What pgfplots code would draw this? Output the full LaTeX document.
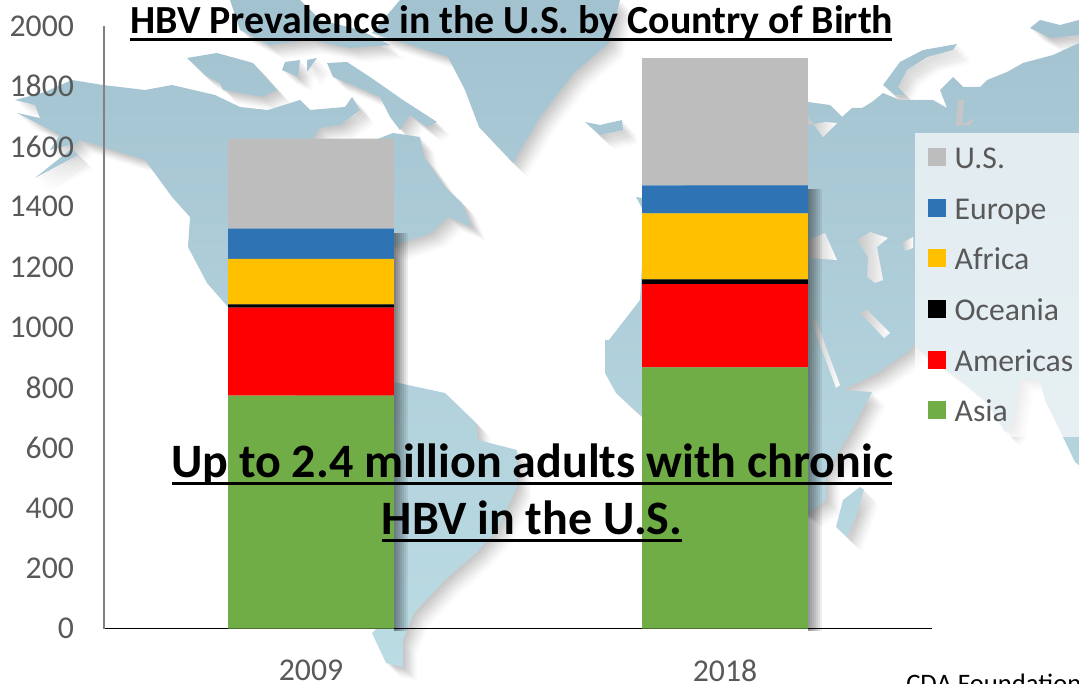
\documentclass[border=0pt]{standalone}
\usepackage{fontspec}
\setmainfont{Carlito}
\usepackage{pgfplots}
\pgfplotsset{compat=1.18}
\definecolor{txt}{HTML}{595959}
\definecolor{cgray}{HTML}{BDBDBD}
\definecolor{cblue}{HTML}{2E74B5}
\definecolor{cyel}{HTML}{FFC000}
\definecolor{cred}{HTML}{FF0000}
\definecolor{cgreen}{HTML}{70AD47}
\definecolor{landtop}{HTML}{A3C2D0}
\definecolor{landbot}{HTML}{BCDCE4}
\pgfplotsset{sw/.style={legend image code/.code={\fill[#1] (0pt,-4.5pt) rectangle (13.5pt,9pt);}}}
\def\landpath{
 % North + South America
 (72,80)--(103,85)--(145,90)--(172,85)--(215,95)--(240,107)--(268,110)--(300,100)--(310,110)--(345,107)--(352,97)--(360,110)--(340,125)--(320,128)--(312,140)--(375,140)--(393,133)--(420,137)--(424,157)--(445,187)--(462,203)--(472,227)--(448,217)--(431,233)--(390,247)--(390,382)--(394,382)--(445,393)--(476,423)--(478,440)--(517,450)--(517,487)--(497,530)--(476,553)--(445,580)--(414,613)--(403,640)--(403,667)--(386,663)--(372,633)--(385,620)--(350,500)--(300,400)--(228,307)--(207,283)--(188,247)--(190,217)--(172,197)--(145,160)--(103,147)--(80,140)--(70,150)--(35,178)--(78,155)--(70,145)--(50,150)--(60,135)--(17,113)--(40,118)--(35,105)--(15,100)--(45,92)--cycle
 % Canadian islands
 (187,58)--(217,53)--(253,63)--(277,90)--(263,97)--(223,90)--(220,83)--(205,75)--cycle
 (285,62)--(300,60)--(298,77)--(282,70)--cycle
 (307,60)--(317,58)--(307,72)--cycle
 (327,63)--(347,62)--(370,77)--(403,100)--(437,122)--(427,127)--(410,115)--(400,130)--(390,117)--(380,97)--(357,87)--(333,77)--cycle
 (185,112)--(205,107)--(210,115)--(195,122)--cycle
 (210,140)--(240,133)--(225,148)--cycle
 (230,0)--(300,0)--(320,20)--(360,30)--(390,45)--(350,48)--(310,40)--(270,45)--(240,30)--cycle
 % Greenland
 (372,33)--(400,0)--(620,0)--(609,43)--(574,73)--(540,117)--(513,163)--(479,127)--(465,90)--(448,57)--cycle
 % Iceland
 (585,122)--(600,125)--(622,120)--(623,130)--(600,135)--cycle
 % Eurasia + Africa
 (808,102)--(830,105)--(842,117)--(852,108)--(862,108)--(872,102)--(883,93)--(900,100)--(917,100)--(933,100)--(947,108)--(940,90)--(953,77)--(963,87)--(980,87)--(987,80)--(1007,72)--(1023,63)--(1053,55)--(1079,43)--(1085,43)--(1085,470)--(1075,462)--(1063,437)--(1045,400)--(1040,380)--(1020,378)--(1012,425)--(1005,432)--(985,400)--(957,377)--(913,345)--(910,350)--(877,373)--(843,390)--(872,392)--(850,433)--(826,473)--(826,500)--(808,513)--(643,417)--(616,393)--(605,373)--(605,340)--(609,340)--(640,300)--(645,210)--(800,110)--cycle
 % Novaya Zemlya
 (883,85)--(900,62)--(923,50)--(957,44)--(953,50)--(927,57)--(907,70)--(898,87)--(905,95)--(895,95)--cycle
 % Arctic Russia, top right
 (1030,28)--(1040,20)--(1060,25)--(1079,20)--(1079,35)--(1050,38)--cycle
 % Madagascar
 (860,487)--(843,500)--(836,527)--(847,537)--(857,513)--(864,490)--cycle
 % UK fragment
 (636,197)--(642,198)--(642,208)--cycle
}
\begin{document}
\begin{tikzpicture}
\useasboundingbox (0,0) rectangle (809.25pt,512.25pt);
\begin{scope}
\clip (0,0) rectangle (809.25pt,512.25pt);
\begin{scope}[x=.75pt,y=-.75pt,yshift=512.25pt]
 % map shadows
 \foreach \d/\o in {14/.035,12/.045,10/.055,8/.065,6/.07,4/.08,2/.08}{
   \fill[black!60,opacity=\o,shift={(\d,\d)}] \landpath;
 }
 \shade[top color=landtop,bottom color=landbot] \landpath;
 % seas
 \shade[left color=gray!45,right color=white] (808,240)--(825,233)--(837,260)--(808,258)--cycle;
 \shade[left color=gray!45,right color=white] (857,240)--(870,232)--(888,238)--(877,247)--(883,280)--(875,283)--(867,277)--(868,257)--cycle;
 \shade[left color=gray!45,right color=white] (902,243)--(913,237)--(913,248)--(905,251)--cycle;
 \shade[left color=gray!45,right color=white] (808,117)--(823,137)--(837,123)--(826,122)--(808,125)--cycle;
 \shade[left color=gray!45,right color=white] (860,313)--(867,310)--(890,333)--(884,338)--cycle;
 \shade[left color=gray!45,right color=white] (811,320)--(816,320)--(840,385)--(836,388)--cycle;
 \fill[gray!45] (958,100)--(964,100)--(962,125)--(975,118)--(970,125)--(956,126)--cycle;
 % bar shadows
 \foreach \w in {2,4,6,8,10,12,14}{
   \fill[black,opacity=.07] (394,233) rectangle (394+\w,631);
   \fill[black,opacity=.07] (808,189) rectangle (808+\w,631);
 }
 % legend panel
 \fill[white,opacity=.68] (915,133) rectangle (1079,437);
\end{scope}
\end{scope}
\begin{axis}[
  at={(78pt,40.875pt)}, anchor=south west,
  scale only axis, width=621pt, height=451.875pt,
  ybar stacked, bar width=0.4,
  xmin=-0.5, xmax=1.5, ymin=0, ymax=2000,
  xtick={0,1}, xticklabels={2009,2018},
  ytick={0,200,...,2000},
  axis lines*=left,
  x axis line style={-,black,line width=1pt},
  y axis line style={-,black!50,line width=1.2pt},
  major tick length=0pt,
  /pgf/number format/assume math mode=true,
  /pgf/number format/1000 sep={},
  tick label style={font=\fontsize{23.8pt}{26pt}\selectfont,text=txt},
  yticklabel style={xshift=-19pt},
  xticklabel style={yshift=-20pt,text depth=0pt},
  clip=false,
  reverse legend,
  legend cell align=left,
  legend style={at={(0.9948,0.798)},anchor=north west,draw=none,fill=none,inner sep=0pt,
    font=\fontsize{23.8pt}{26pt}\selectfont,text=txt,row sep=21.5pt,column sep=6.5pt,
    nodes={inner sep=0pt,text height=14pt,text depth=1pt}},
]
\addplot[fill=cgreen,draw=none,sw=cgreen] coordinates {(0,773) (1,867)};
\addlegendentry{Asia}
\addplot[fill=cred,draw=none,sw=cred] coordinates {(0,292) (1,276)};
\addlegendentry{Americas}
\addplot[fill=black,draw=none,sw=black] coordinates {(0,11) (1,16)};
\addlegendentry{Oceania}
\addplot[fill=cyel,draw=none,sw=cyel] coordinates {(0,151) (1,219)};
\addlegendentry{Africa}
\addplot[fill=cblue,draw=none,sw=cblue] coordinates {(0,100) (1,93)};
\addlegendentry{Europe}
\addplot[fill=cgray,draw=none,sw=cgray] coordinates {(0,299) (1,422)};
\addlegendentry{U.S.}
\end{axis}
\begin{scope}[x=.75pt,y=-.75pt,yshift=512.25pt]
 \node[anchor=base west,inner sep=0,font=\fontsize{29.9pt}{32pt}\selectfont\bfseries] at (130,34) {HBV Prevalence in the U.S. by Country of Birth};
 \fill (130,38.3) rectangle (892,40.6);
 \node[anchor=base,inner sep=0,font=\fontsize{36pt}{40pt}\selectfont\bfseries] at (532,477.5) {Up to 2.4 million adults with chronic};
 \fill (172,481.7) rectangle (892,485);
 \node[anchor=base,inner sep=0,font=\fontsize{36pt}{40pt}\selectfont\bfseries] at (532,534.5) {HBV in the U.S.};
 \fill (382,539) rectangle (682,542);
 \node[anchor=base west,inner sep=0,font=\fontsize{20pt}{24pt}\selectfont] at (906,692) {CDA Foundation};
\end{scope}
\end{tikzpicture}
\end{document}
